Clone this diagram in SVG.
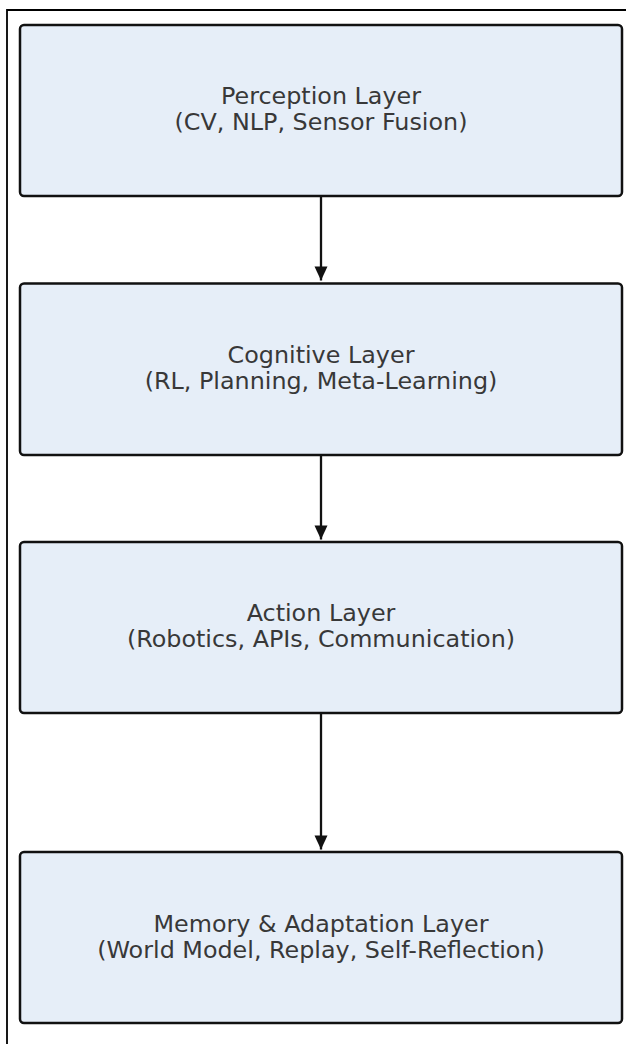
<svg xmlns="http://www.w3.org/2000/svg" width="626" height="1044" viewBox="0 0 626 1044">
<style>
.box{fill:#e6eef8;stroke:#111;stroke-width:2.5}
.t{font-family:"DejaVu Sans",sans-serif;font-size:22.5px;fill:#383838;text-anchor:middle}
.c{stroke:#111;stroke-width:2.3;fill:none}
</style>
<defs>
<marker id="ah" markerUnits="userSpaceOnUse" markerWidth="16" markerHeight="16" viewBox="0 0 16 16" refX="15" refY="8" orient="auto">
<path d="M1,1.5 L15,8 L1,14.5 Z" fill="#111"/>
</marker>
</defs>
<rect x="0" y="0" width="626" height="1044" fill="#fff"/>
<path d="M7,1044 V10 H626" fill="none" stroke="#000" stroke-width="1.8"/>
<g id="perception">
<rect class="box" x="20" y="25" width="602" height="171" rx="4"/>
<g transform="translate(321,0) scale(1.06,1)">
<text class="t" x="0" y="104.5">Perception Layer</text>
<text class="t" x="0" y="130.5">(CV, NLP, Sensor Fusion)</text>
</g>
</g>
<g id="cognitive">
<rect class="box" x="20" y="283.5" width="602" height="171.5" rx="4"/>
<g transform="translate(321,0) scale(1.06,1)">
<text class="t" x="0" y="363">Cognitive Layer</text>
<text class="t" x="0" y="389">(RL, Planning, Meta-Learning)</text>
</g>
</g>
<g id="action">
<rect class="box" x="20" y="542" width="602" height="171" rx="4"/>
<g transform="translate(321,0) scale(1.06,1)">
<text class="t" x="0" y="621.5">Action Layer</text>
<text class="t" x="0" y="647.5">(Robotics, APIs, Communication)</text>
</g>
</g>
<g id="memory">
<rect class="box" x="20" y="852" width="602" height="171" rx="4"/>
<g transform="translate(321,0) scale(1.06,1)">
<text class="t" x="0" y="932">Memory &amp; Adaptation Layer</text>
<text class="t" x="0" y="958">(World Model, Replay, Self-Reflection)</text>
</g>
</g>
<g id="connectors">
<line class="c" x1="321" y1="197" x2="321" y2="280.5" marker-end="url(#ah)"/>
<line class="c" x1="321" y1="456" x2="321" y2="539.5" marker-end="url(#ah)"/>
<line class="c" x1="321" y1="714" x2="321" y2="849.5" marker-end="url(#ah)"/>
</g>
</svg>
